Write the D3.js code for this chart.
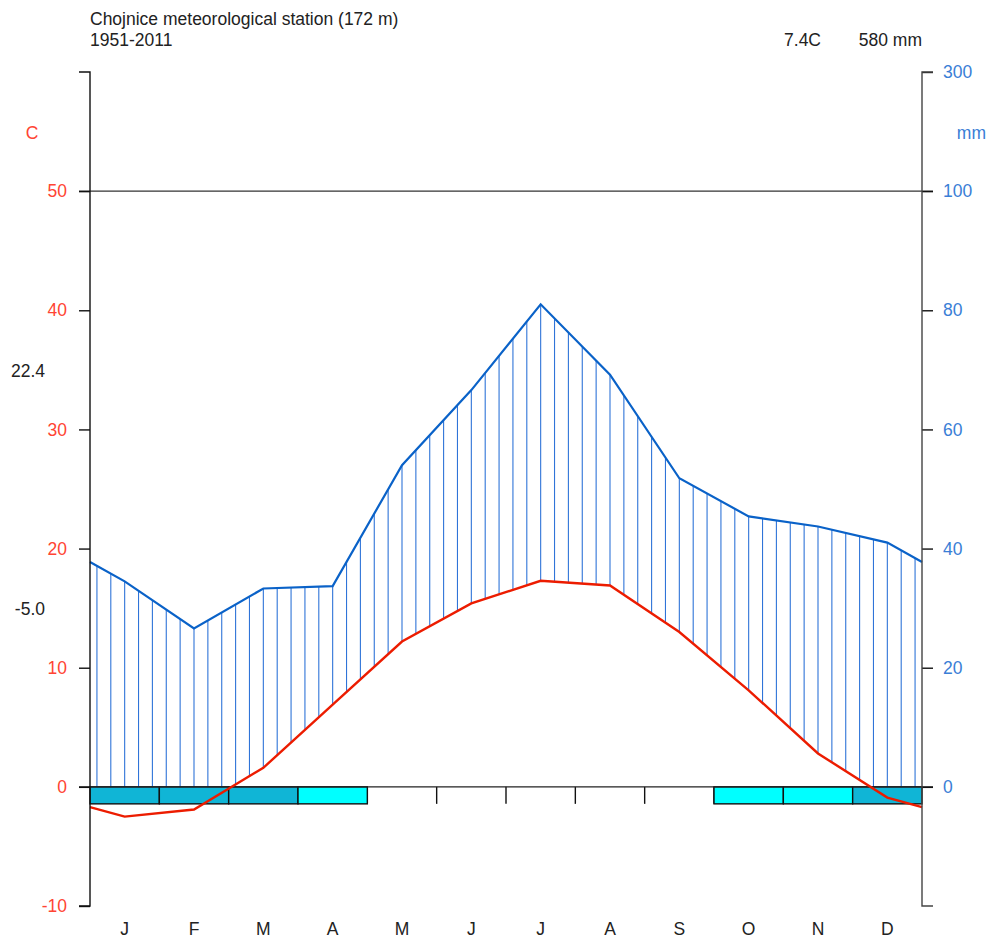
<!DOCTYPE html>
<html>
<head>
<meta charset="utf-8">
<script src="https://cdn.jsdelivr.net/npm/d3@7"></script>
<style>
body { margin: 0; background: #fff; }
svg { font-family: "Liberation Sans", Arial, sans-serif; }
</style>
</head>
<body>
<div id="chart"></div>
<script>
const width = 990
const height = 940

// monthly values
const months = ["J","F","M","A","M","J","J","A","S","O","N","D"]
const temp = [-2.5, -1.9, 1.6, 6.9, 12.2, 15.4, 17.3, 16.9, 13.0, 8.1, 2.8, -0.9]
const prec = [34.5, 26.6, 33.3, 33.7, 54.0, 66.6, 81.0, 69.2, 51.8, 45.4, 43.7, 41.0]
// frost: 2 = certain frost, 1 = probable frost, 0 = none
const frost = [2, 2, 2, 1, 0, 0, 0, 0, 0, 1, 1, 2]
const tempTicks = [-10, 0, 10, 20, 30, 40, 50]
const precTicks = [0, 20, 40, 60, 80, 100, 300]

const station = "Chojnice meteorological station (172 m)"
const period = "1951-2011"
const meanT = "7.4C"
const totalP = "580 mm"
const absMax = "22.4"
const absMin = "-5.0"

const mLeft = 90, mRight = 922, mTop = 72, mBottom = 906
const fs = "17.5px"
const red = "#ec1c00", blue = "#0a62c8"
const redTxt = "#ff4433", blueTxt = "#3a7ed6"

const svg = d3.select("#chart")
.append("svg")
.attr("width",width)
.attr("height",height)

const x = d3.scaleLinear().domain([0,12]).range([mLeft,mRight])
const yT = d3.scaleLinear().domain([-10,60]).range([mBottom,mTop])
const yP = d3.scaleLinear().domain([0,100,300]).range([yT(0),yT(50),yT(60)])

// curves run from the year edge (mean of Dec and Jan) through month centres
const knots = [0, ...months.map((m,i)=>i+0.5), 12]
const edgeT = (temp[0]+temp[11])/2
const edgeP = (prec[0]+prec[11])/2
const tPts = [edgeT, ...temp, edgeT]
const pPts = [edgeP, ...prec, edgeP]
const tAt = d3.scaleLinear().domain(knots).range(tPts)
const pAt = d3.scaleLinear().domain(knots).range(pPts)

// humid period hatching
const hatch = d3.range(60).map(k=>k*0.2+0.1)
svg.append("g")
.selectAll("line")
.data(hatch.filter(m=>pAt(m) > 2*tAt(m)))
.enter()
.append("line")
.attr("x1",m=>x(m))
.attr("x2",m=>x(m))
.attr("y1",m=>yP(Math.max(0,2*tAt(m))))
.attr("y2",m=>yP(pAt(m)))
.attr("stroke","#2f74d8")
.attr("stroke-width",1.1)

// reference lines
svg.append("line")
.attr("x1",mLeft-11).attr("x2",mRight+11)
.attr("y1",yT(50)).attr("y2",yT(50))
.attr("stroke","#333").attr("stroke-width",1.4)

// month boundary ticks
const boxH = 17
svg.append("g")
.selectAll("line")
.data(d3.range(1,12))
.enter()
.append("line")
.attr("x1",d=>x(d)).attr("x2",d=>x(d))
.attr("y1",yT(0)).attr("y2",yT(0)+boxH)
.attr("stroke","#111").attr("stroke-width",1.4)

// frost boxes
svg.append("g")
.selectAll("rect")
.data(frost.map((f,i)=>({f,i})).filter(d=>d.f>0))
.enter()
.append("rect")
.attr("x",d=>x(d.i))
.attr("y",yT(0))
.attr("width",x(1)-x(0))
.attr("height",boxH)
.attr("fill",d=>d.f==2 ? "#10b5d6" : "#00ffff")
.attr("stroke","#111")
.attr("stroke-width",1.4)

svg.append("line")
.attr("x1",mLeft-11).attr("x2",mRight+11)
.attr("y1",yT(0)).attr("y2",yT(0))
.attr("stroke","#222").attr("stroke-width",1.4)

// curves
svg.append("path")
.datum(knots.map((k,i)=>[k,pPts[i]]))
.attr("d",d3.line().x(d=>x(d[0])).y(d=>yP(d[1])))
.attr("fill","none").attr("stroke",blue).attr("stroke-width",2.2)

svg.append("path")
.datum(knots.map((k,i)=>[k,tPts[i]]))
.attr("d",d3.line().x(d=>x(d[0])).y(d=>yT(d[1])))
.attr("fill","none").attr("stroke",red).attr("stroke-width",2.4)

// axes
const axL = svg.append("g")
.attr("transform",`translate(${mLeft},0)`)
.call(d3.axisLeft(yT).tickValues(tempTicks).tickFormat(d=>String(d)).tickSize(11).tickSizeOuter(0).tickPadding(12))
axL.select(".domain").remove()
axL.selectAll("text").attr("fill",redTxt).style("font-size",fs).style("font-family","Liberation Sans, Arial, sans-serif")
axL.selectAll("line").attr("stroke","#111").attr("stroke-width",1.4)

const axR = svg.append("g")
.attr("transform",`translate(${mRight},0)`)
.call(d3.axisRight(yP).tickValues(precTicks).tickFormat(d=>String(d)).tickSize(11).tickSizeOuter(0).tickPadding(10))
axR.select(".domain").remove()
axR.selectAll("text").attr("fill",blueTxt).style("font-size",fs).style("font-family","Liberation Sans, Arial, sans-serif")
axR.selectAll("line").attr("stroke","#111").attr("stroke-width",1.4)

svg.append("path")
.attr("d",`M${mLeft-11},${yT(60)}H${mLeft}V${yT(-10)}H${mLeft-11}`)
.attr("fill","none").attr("stroke","#111").attr("stroke-width",1.4)
svg.append("path")
.attr("d",`M${mRight+11},${yT(60)}H${mRight}V${yT(-10)}H${mRight+11}`)
.attr("fill","none").attr("stroke","#444").attr("stroke-width",1.4)

// month labels
svg.append("g")
.selectAll("text")
.data(months)
.enter()
.append("text")
.attr("x",(d,i)=>x(i+0.5))
.attr("y",yT(-10)+29)
.attr("text-anchor","middle")
.style("font-size",fs)
.attr("fill","#222")
.text(d=>d)

// texts
const txt = (tx,ty,s,anchor,col)=>svg.append("text")
.attr("x",tx).attr("y",ty)
.attr("text-anchor",anchor)
.attr("fill",col)
.style("font-size",fs)
.text(s)

txt(mLeft,25,station,"start","#222")
txt(mLeft,46,period,"start","#222")
txt(821,46,meanT,"end","#222")
txt(mRight,46,totalP,"end","#222")
txt(32,yT(55)+7,"C","middle",redTxt)
txt(986,yT(55)+7,"mm","end",blueTxt)
txt(45,yT(34.9)+6,absMax,"end","#222")
txt(45,yT(14.9)+6,absMin,"end","#222")
</script>
</body>
</html>
